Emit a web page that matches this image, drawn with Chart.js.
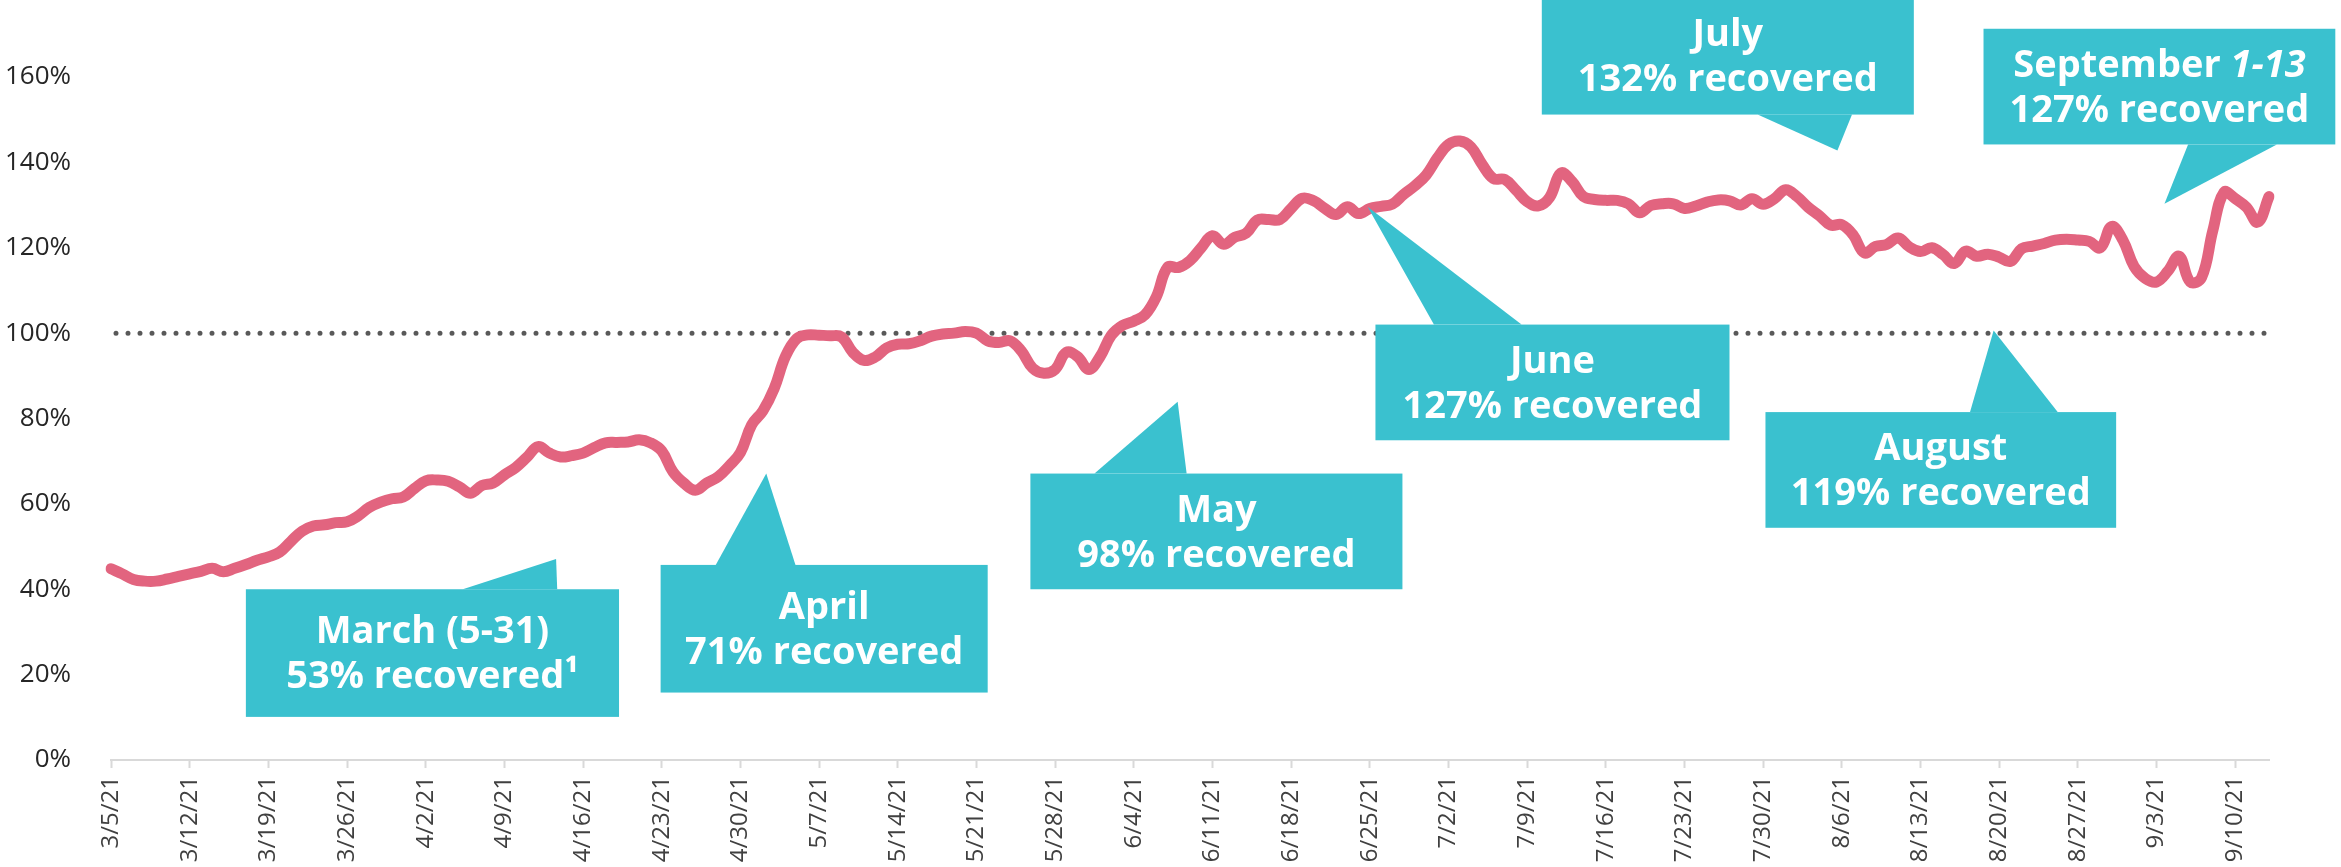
<!DOCTYPE html>
<html>
<head>
<meta charset="utf-8">
<script src="https://cdn.jsdelivr.net/npm/chart.js@4.4.1/dist/chart.umd.min.js"></script>
<style>
  html, body { margin: 0; padding: 0; background: #fff; }
  #wrap { width: 2341px; height: 867px; }
</style>
</head>
<body>
<div id="wrap"><canvas id="recoveryChart" width="2341" height="867"></canvas></div>
<script>
// daily recovery index, 3/5/21 .. 9/13/21 (percent)
const recovery = [
  44.8, 43.6, 42.3, 41.9, 41.9, 42.4, 43.0, 43.6, 44.2, 44.9, 44.1, 44.9, 45.8, 46.8,
  47.6, 48.7, 51.2, 53.6, 54.8, 55.1, 55.6, 55.8, 57.2, 59.2, 60.4, 61.2, 61.6, 63.6,
  65.4, 65.6, 65.3, 64.0, 62.5, 64.3, 64.9, 66.8, 68.5, 70.9, 73.4, 71.9, 71.0, 71.3,
  71.9, 73.2, 74.3, 74.4, 74.5, 75.0, 74.3, 72.4, 67.5, 64.8, 63.2, 64.9, 66.3, 68.9,
  72.0, 78.5, 81.8, 87.0, 94.5, 98.7, 99.6, 99.5, 99.4, 99.1, 95.5, 93.6, 94.4, 96.5,
  97.4, 97.5, 98.2, 99.3, 99.8, 100.0, 100.4, 100.0, 98.2, 97.8, 98.2, 95.8, 91.8, 90.6,
  91.5, 95.5, 94.5, 91.5, 94.5, 99.5, 101.8, 102.8, 104.3, 108.5, 115.4, 115.4, 117.0, 120.0,
  122.8, 120.8, 122.5, 123.4, 126.5, 126.6, 126.6, 129.2, 131.6, 131.0, 129.2, 127.8, 129.6, 128.0,
  129.2, 129.7, 130.2, 132.5, 134.5, 137.0, 141.0, 144.2, 145.0, 143.6, 139.5, 136.2, 136.0, 133.5,
  130.8, 129.8, 131.8, 137.5, 135.5, 132.0, 131.3, 131.1, 131.1, 130.3, 128.2, 129.9, 130.3, 130.3,
  129.2, 129.8, 130.7, 131.2, 131.0, 130.0, 131.5, 130.2, 131.5, 133.6, 132.0, 129.5, 127.5, 125.3,
  125.4, 123.0, 118.8, 120.3, 120.8, 122.3, 120.2, 119.1, 120.0, 118.4, 116.3, 119.2, 118.0, 118.5,
  117.8, 116.8, 119.8, 120.4, 121.0, 121.8, 122.0, 121.8, 121.5, 120.0, 125.0, 121.8, 115.6, 112.8,
  112.0, 114.5, 118.0, 112.0, 113.0, 124.0, 133.0, 131.5, 129.5, 126.0, 132.0
];

// one label per day starting 3/5/21
const dates = recovery.map((v, i) => {
  const d = new Date(2021, 2, 5 + i);
  return (d.getMonth() + 1) + '/' + d.getDate() + '/21';
});

const yTicks = [0, 20, 40, 60, 80, 100, 120, 140, 160];
const baseline = 100;

// callouts: box = [xFrom, yTop, xTo, yBottom] and pointer triangle, in data units (day index, %)
const callouts = [
  { lines: [['March (5-31)'], ['53% recovered\u00B9']], box: [12.0, 40.0, 45.2, 10.1], ptr: [[31.3, 40.0], [39.6, 47.1], [39.7, 40.0]] },
  { lines: [['April'], ['71% recovered']], box: [48.9, 45.7, 78.0, 15.8], ptr: [[53.8, 45.7], [58.3, 67.1], [60.9, 45.7]] },
  { lines: [['May'], ['98% recovered']], box: [81.8, 67.1, 114.9, 40.0], ptr: [[87.5, 67.1], [94.9, 83.9], [95.7, 67.1]] },
  { lines: [['June'], ['127% recovered']], box: [112.5, 102.0, 144.0, 74.9], ptr: [[117.7, 102.0], [111.8, 129.6], [125.5, 102.0]] },
  { lines: [['July'], ['132% recovered']], box: [127.3, 179.0, 160.4, 151.2], ptr: [[146.5, 151.2], [153.6, 142.8], [154.9, 151.2]] },
  { lines: [['August'], ['119% recovered']], box: [147.2, 81.5, 178.4, 54.4], ptr: [[165.4, 81.5], [167.5, 100.6], [173.2, 81.5]] },
  { lines: [['September ', '1-13'], ['127% recovered']], box: [166.6, 171.3, 197.9, 144.2], ptr: [[184.8, 144.2], [182.7, 130.3], [192.7, 144.2]] }
];

const teal = '#3ac1cf';
const pink = '#e2647f';

const dottedLine = {
  id: 'dottedLine',
  beforeDatasetsDraw(chart) {
    const { ctx, chartArea, scales } = chart;
    const y = scales.y.getPixelForValue(baseline);
    ctx.save();
    ctx.strokeStyle = '#595959';
    ctx.lineWidth = 5;
    ctx.lineCap = 'round';
    ctx.setLineDash([0, 12]);
    ctx.beginPath();
    ctx.moveTo(chartArea.left + 5, y);
    ctx.lineTo(chartArea.right, y);
    ctx.stroke();
    ctx.restore();
  }
};

const calloutBoxes = {
  id: 'calloutBoxes',
  afterDatasetsDraw(chart) {
    const { ctx, scales } = chart;
    const px = v => scales.x.getPixelForValue(v);
    const py = v => scales.y.getPixelForValue(v);
    ctx.save();
    callouts.forEach(c => {
      const x1 = px(c.box[0]), y1 = py(c.box[1]), x2 = px(c.box[2]), y2 = py(c.box[3]);
      ctx.fillStyle = teal;
      ctx.fillRect(x1, y1, x2 - x1, y2 - y1);
      ctx.beginPath();
      c.ptr.forEach((p, i) => {
        if (i === 0) ctx.moveTo(px(p[0]), py(p[1]));
        else ctx.lineTo(px(p[0]), py(p[1]));
      });
      ctx.closePath();
      ctx.fill();

      // text
      const cx = (x1 + x2) / 2;
      const cy = (y1 + y2) / 2 + 2;
      const lh = 45;
      ctx.fillStyle = '#fff';
      ctx.textBaseline = 'middle';
      ctx.textAlign = 'left';
      c.lines.forEach((parts, li) => {
        const y = cy + (li - (c.lines.length - 1) / 2) * lh;
        const fonts = parts.map((t, pi) => (pi > 0 ? 'italic ' : '') + 'bold 38px "Open Sans"');
        let w = 0;
        parts.forEach((t, pi) => { ctx.font = fonts[pi]; w += ctx.measureText(t).width; });
        let x = cx - w / 2;
        parts.forEach((t, pi) => {
          ctx.font = fonts[pi];
          ctx.fillText(t, x, y);
          x += ctx.measureText(t).width;
        });
      });
    });
    ctx.restore();
  }
};

const ctx = document.getElementById('recoveryChart').getContext('2d');
const recoveryChart = new Chart(ctx, {
  type: 'line',
  data: {
    labels: dates,
    datasets: [{
      label: 'Recovery',
      data: recovery,
      borderColor: pink,
      borderWidth: 11,
      borderCapStyle: 'round',
      borderJoinStyle: 'round',
      pointRadius: 0,
      tension: 0.4,
      fill: false
    }]
  },
  options: {
    responsive: false,
    devicePixelRatio: 1,
    animation: false,
    layout: { padding: { top: 77, right: 72, left: 0, bottom: 0 } },
    plugins: {
      legend: { display: false },
      tooltip: { enabled: false }
    },
    scales: {
      x: {
        type: 'category',
        afterFit(scale) { scale.height = 107; },
        border: { display: true, color: '#d9d9d9', width: 2 },
        grid: {
          drawOnChartArea: false,
          drawTicks: true,
          tickLength: 8,
          tickWidth: 2,
          tickColor: c => (c.index % 7 === 0 ? '#d9d9d9' : 'rgba(0,0,0,0)')
        },
        ticks: {
          autoSkip: false,
          minRotation: 90,
          maxRotation: 90,
          padding: 8,
          color: '#404040',
          font: { family: 'Open Sans', size: 24 },
          callback(value, index) { return index % 7 === 0 ? dates[index] : ''; }
        }
      },
      y: {
        min: yTicks[0],
        max: yTicks[yTicks.length - 1],
        afterFit(scale) { scale.width = 111; },
        afterBuildTicks(scale) { scale.ticks = yTicks.map(v => ({ value: v })); },
        border: { display: false },
        grid: { display: false },
        ticks: {
          padding: 32,
          color: '#262626',
          font: { family: 'Open Sans', size: 26 },
          callback: v => v + '%'
        }
      }
    }
  },
  plugins: [dottedLine, calloutBoxes]
});
</script>
</body>
</html>
